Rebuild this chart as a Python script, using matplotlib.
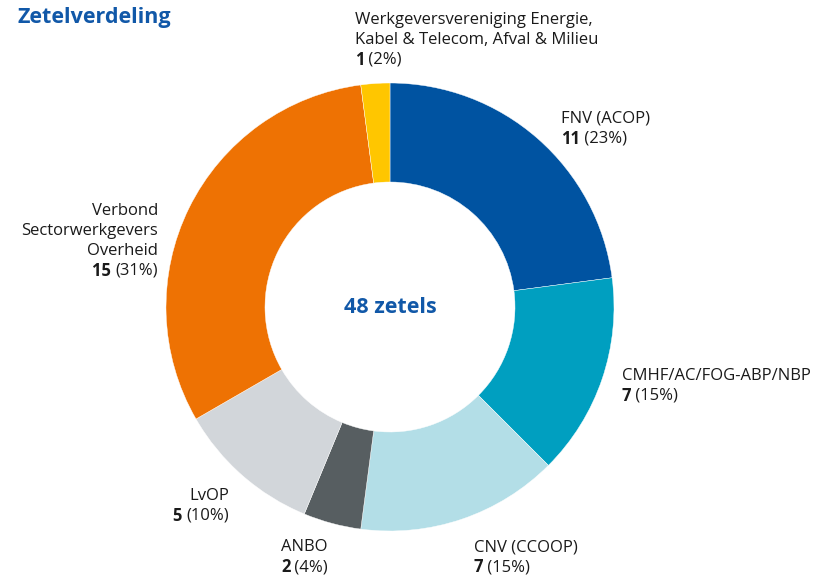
import matplotlib
matplotlib.use("Agg")
import matplotlib.pyplot as plt

plt.rcParams['font.family'] = ['Open Sans', 'DejaVu Sans']

# data
names = ["FNV (ACOP)", "CMHF/AC/FOG-ABP/NBP", "CNV (CCOOP)", "ANBO", "LvOP",
         "Verbond\nSectorwerkgevers\nOverheid",
         "Werkgeversvereniging Energie,\nKabel & Telecom, Afval & Milieu"]
seats = [11, 7, 7, 2, 5, 15, 1]
colors = ["#0053a1", "#009fc0", "#b3dee7", "#575e61", "#d2d6da", "#ee7203", "#ffc600"]

total = sum(seats)

W, H = 820, 576
fig = plt.figure(figsize=(W / 100, H / 100), dpi=100)
ax = fig.add_axes([0, 0, 1, 1])

# donut
cx, cy, r = 390, H - 307, 224
ax.pie(seats, colors=colors, startangle=90, counterclock=False,
       center=(cx, cy), radius=r, frame=True,
       wedgeprops=dict(width=99, edgecolor='white', linewidth=0.3))
ax.set_xlim(0, W)
ax.set_ylim(0, H)
ax.set_aspect('equal')
ax.axis('off')

ax.text(18, H - 18, "Zetelverdeling", fontsize=15.5, fontweight='bold',
        color="#1158a8", ha='left', va='center')
ax.text(cx, H - 308, f"{total} zetels", fontsize=15.5, fontweight='bold',
        color="#1158a8", ha='center', va='center')

# label anchors (x, y of first line, alignment)
label_pos = [(561, 119, 'left'), (622, 376, 'left'), (474, 547, 'left'),
             (281, 547, 'left'), (229, 496, 'right'), (158, 211, 'right'),
             (355, 20, 'left')]
fs = 12
lh = 20
txtcol = "#1a1a1a"

for name, n, (x, y, ha) in zip(names, seats, label_pos):
    lines = name.split("\n")
    for i, line in enumerate(lines):
        ax.text(x, H - (y + i * lh), line, fontsize=fs, ha=ha, va='center', color=txtcol)
    yl = H - (y + len(lines) * lh)
    pct = f"({round(n / total * 100)}%)"
    if ha == 'left':
        t = ax.text(x, yl, str(n), fontsize=fs, fontweight='bold', ha='left',
                    va='center', color=txtcol)
        ax.annotate(" " + pct, xy=(1, 0.5), xycoords=t, fontsize=fs,
                    ha='left', va='center', color=txtcol)
    else:
        t = ax.text(x, yl, pct, fontsize=fs, ha='right', va='center', color=txtcol)
        ax.annotate(str(n) + " ", xy=(0, 0.5), xycoords=t, fontsize=fs,
                    fontweight='bold', ha='right', va='center', color=txtcol)

fig.savefig("out.png", dpi=100)
